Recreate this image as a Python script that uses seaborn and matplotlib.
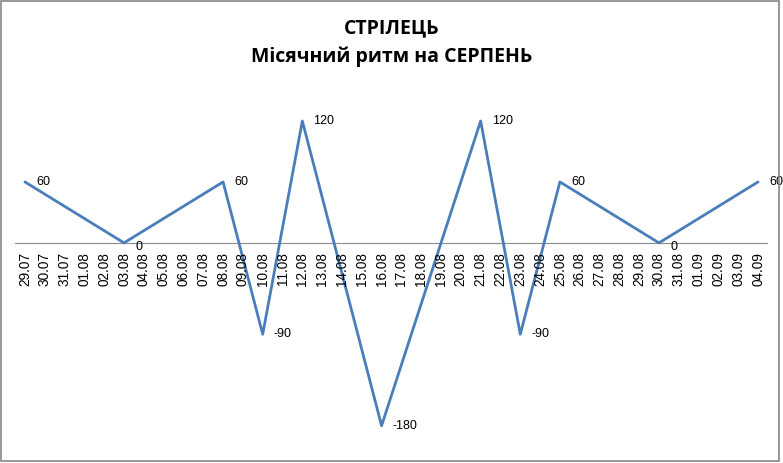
import numpy as np
import pandas as pd
import matplotlib
matplotlib.use("Agg")
import matplotlib.pyplot as plt
import seaborn as sns

# категорії осі X (дати)
dates = ["29.07", "30.07", "31.07"] + [f"{d:02d}.08" for d in range(1, 32)] + \
        [f"{d:02d}.09" for d in range(1, 5)]

# точки ритму (дата -> значення)
key_dates = ["29.07", "03.08", "08.08", "10.08", "12.08", "16.08",
             "21.08", "23.08", "25.08", "30.08", "04.09"]
key_values = [60, 0, 60, -90, 120, -180, 120, -90, 60, 0, 60]

title = "СТРІЛЕЦЬ\nМісячний ритм на СЕРПЕНЬ"

sns.set_style("white")
plt.rcParams["font.family"] = ["Open Sans", "DejaVu Sans"]
plt.rcParams["text.color"] = "black"

df = pd.DataFrame({"pos": [dates.index(d) for d in key_dates], "value": key_values})

fig = plt.figure(figsize=(7.83, 4.63), dpi=100)
ax = fig.add_axes([0.0192, 0.0367, 0.9616, 0.7678])

sns.lineplot(data=df, x="pos", y="value", ax=ax, color="#4A7EBB", linewidth=2.0,
             sort=False, estimator=None)

ax.axhline(0, color="#8C8C8C", linewidth=0.8, zorder=1)

lab_font = ["Liberation Sans", "DejaVu Sans"]
for p, v in zip(df["pos"], df["value"]):
    dy = -3 if v == 0 else 0
    ax.annotate(f"{v}", xy=(p, v), xytext=(8, dy), textcoords="offset points",
                ha="left", va="center", fontsize=9, family=lab_font)

# підписи дат під нульовою лінією
for i, d in enumerate(dates):
    ax.text(i, -9, d, rotation=90, ha="center", va="top", fontsize=9.8,
            family=lab_font, color="black")

ax.set_xlim(-0.5, len(dates) - 0.5)
ax.set_ylim(-200, 150)
ax.set_xticks([])
ax.set_yticks([])
ax.set_xlabel("")
ax.set_ylabel("")
for s in ax.spines.values():
    s.set_visible(False)

fig.text(0.5, 0.908, title, ha="center", va="center", fontsize=14, fontweight="bold",
         linespacing=1.5, color="black")

# рамка діаграми
fig.patches.append(plt.Rectangle((0.0015, 0.004), 0.993, 0.993, transform=fig.transFigure,
                                 fill=False, edgecolor="#868686", linewidth=1.2))

fig.savefig("out.png", dpi=100)
